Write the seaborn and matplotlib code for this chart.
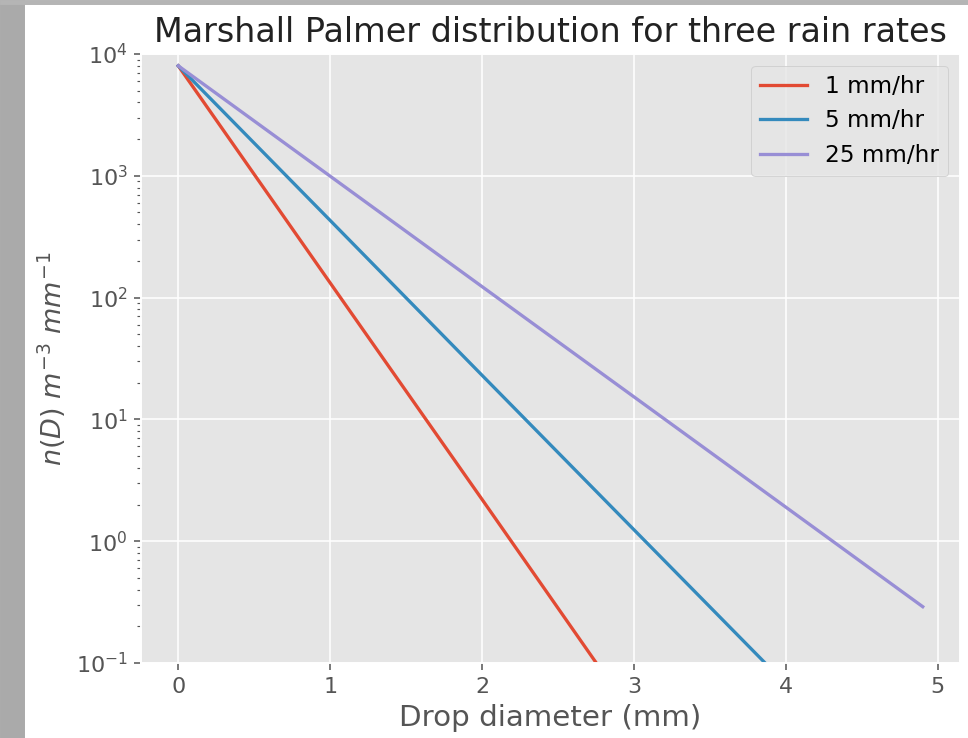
# Marshall Palmer drop size distribution, three rain rates

import pandas as pd
import matplotlib.pyplot as plt
import seaborn as sns
from matplotlib.patches import Rectangle

# values (straight lines on a log axis)
diameter = [0.0, 1.0, 2.0, 3.0, 4.0, 4.9]
n_1mm = [8000, 132, 2.2, 0.036, 0.0006, 0.000015]
n_5mm = [8000, 430, 23, 1.24, 0.067, 0.0048]
n_25mm = [8000, 993, 123, 15.3, 1.9, 0.29]
rates = ['1 mm/hr', '5 mm/hr', '25 mm/hr']
colors = ['#E24A33', '#348ABD', '#988ED5']

df = pd.concat([
    pd.DataFrame({'D': diameter, 'n': vals, 'rate': r})
    for r, vals in zip(rates, [n_1mm, n_5mm, n_25mm])
])

plt.style.use('ggplot')
fig = plt.figure(figsize=(968 / 139, 738 / 139), dpi=139)
ax = fig.add_axes([0.1457, 0.1016, 0.8460, 0.8252])

# blurred screenshot border on the left / top
fig.patches.append(Rectangle((0, 0), 24 / 968, 1, transform=fig.transFigure,
                             color='#aaaaaa', zorder=-1))
fig.patches.append(Rectangle((0, 1 - 4 / 738), 1, 4 / 738, transform=fig.transFigure,
                             color='#b5b5b5', zorder=-1))

sns.lineplot(data=df, x='D', y='n', hue='rate', hue_order=rates,
             palette=colors, ax=ax, linewidth=1.7)
ax.set_yscale('log')
ax.set_ylim(0.1, 1e4)
ax.set_xticks([0, 1, 2, 3, 4, 5])
ax.tick_params(labelsize=11.5)
ax.set_title('Marshall Palmer distribution for three rain rates', fontsize=17.3, color='#222222')
ax.set_xlabel('Drop diameter (mm)', fontsize=15.2)
ax.set_ylabel(r'$n(D)\ m^{-3}\ mm^{-1}$', fontsize=14)
ax.legend(loc='upper right', title=None, fontsize=12)

fig.savefig('out.png', dpi=139)
